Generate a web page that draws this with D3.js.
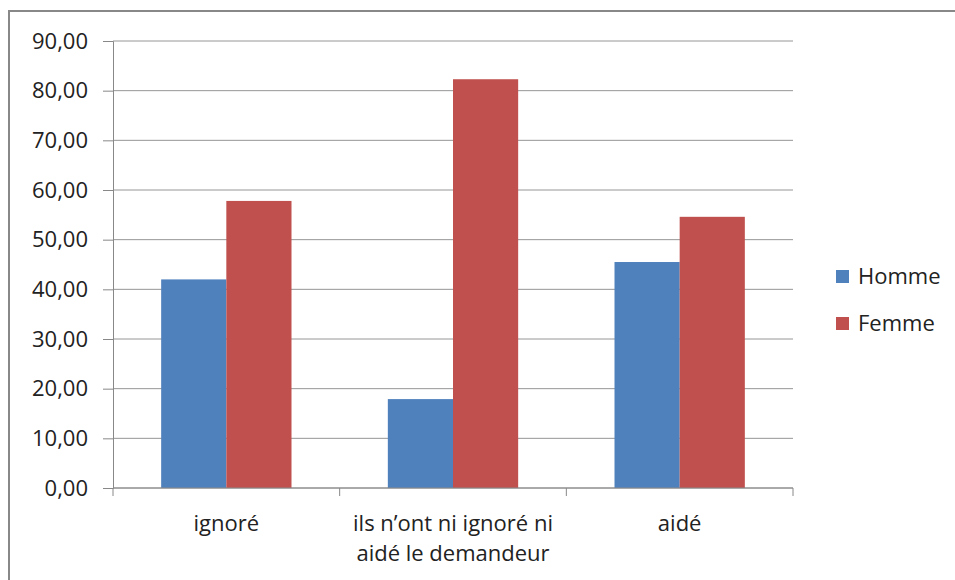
<!DOCTYPE html>
<html>
<head>
<meta charset="utf-8">
<script src="https://cdn.jsdelivr.net/npm/d3@7"></script>
<style>
  body { margin: 0; background: #fff; }
  text { font-family: "Open Sans", "Noto Sans", sans-serif; fill: #222; }
</style>
</head>
<body>
<svg id="chart" width="955" height="580"></svg>
<script>
// data
const categories = ["ignoré", "ils n’ont ni ignoré ni|aidé le demandeur", "aidé"];
const series = ["Homme", "Femme"];
const homme = [42.0, 17.9, 45.5];
const femme = [57.8, 82.3, 54.6];
const yTicks = [0, 10, 20, 30, 40, 50, 60, 70, 80, 90];
const colors = ["#4f81bd", "#c0504d"];

const svg = d3.select("#chart");
const margin = { left: 113, right: 162, top: 41, bottom: 92 };
const width = 955 - margin.left - margin.right;
const height = 580 - margin.top - margin.bottom;

// outer frame (runs off the right/bottom edges)
svg.append("rect")
  .attr("x", 9).attr("y", 11)
  .attr("width", 960).attr("height", 600)
  .attr("fill", "none").attr("stroke", "#888").attr("stroke-width", 2);

const g = svg.append("g").attr("transform", `translate(${margin.left},${margin.top})`);

const x = d3.scaleBand().domain(categories).range([0, width]).paddingInner(0.425).paddingOuter(0.2125);
const x1 = d3.scaleBand().domain(series).range([0, x.bandwidth()]);
const y = d3.scaleLinear().domain([0, 90]).range([height, 0]);
const fmt = (v) => d3.format(".2f")(v).replace(".", ",");

// gridlines
g.selectAll(".grid").data(yTicks).join("line")
  .attr("x1", 0).attr("x2", width)
  .attr("y1", (d) => y(d)).attr("y2", (d) => y(d))
  .attr("stroke", "#969696").attr("stroke-width", 1);

// y axis
const yAxis = g.append("g").call(d3.axisLeft(y).tickValues(yTicks).tickFormat(fmt).tickSize(10).tickPadding(15));
yAxis.select(".domain").attr("stroke", "#888");
yAxis.selectAll(".tick line").attr("stroke", "#888");
yAxis.selectAll("text").style("font-size", "22px").attr("fill", "#222");

// bars
const rows = categories.map((c, i) => ({ cat: c, vals: [homme[i], femme[i]] }));
g.selectAll(".grp").data(rows).join("g")
  .attr("transform", (d) => `translate(${x(d.cat)},0)`)
  .selectAll("rect").data((d) => d.vals.map((v, j) => ({ s: series[j], v: v, j: j })))
  .join("rect")
  .attr("x", (d) => x1(d.s))
  .attr("y", (d) => y(d.v))
  .attr("width", x1.bandwidth())
  .attr("height", (d) => height - y(d.v))
  .attr("fill", (d) => colors[d.j]);

// x axis line and category ticks
const xb = g.append("g").attr("transform", `translate(0,${height})`);
xb.append("line").attr("x1", 0).attr("x2", width).attr("stroke", "#888");
xb.selectAll(".ct").data(d3.range(categories.length + 1)).join("line")
  .attr("x1", (i) => i * width / categories.length)
  .attr("x2", (i) => i * width / categories.length)
  .attr("y1", 0).attr("y2", 8)
  .attr("stroke", "#888");

// category labels
xb.selectAll(".lab").data(categories).join("text")
  .attr("text-anchor", "middle")
  .attr("x", (d) => x(d) + x.bandwidth() / 2)
  .attr("y", 43)
  .style("font-size", "22px")
  .each(function (d) {
    const lines = d.split("|");
    d3.select(this).selectAll("tspan").data(lines).join("tspan")
      .attr("x", x(d) + x.bandwidth() / 2)
      .attr("dy", (l, k) => (k === 0 ? 0 : 30))
      .text((l) => l);
  });

// legend
const leg = svg.append("g").attr("transform", "translate(836,268)");
series.forEach((s, i) => {
  leg.append("rect").attr("x", 0).attr("y", i * 47 + 2).attr("width", 13).attr("height", 13).attr("fill", colors[i]);
  leg.append("text").attr("x", 22).attr("y", i * 47 + 16).style("font-size", "22px").text(s);
});
</script>
</body>
</html>
